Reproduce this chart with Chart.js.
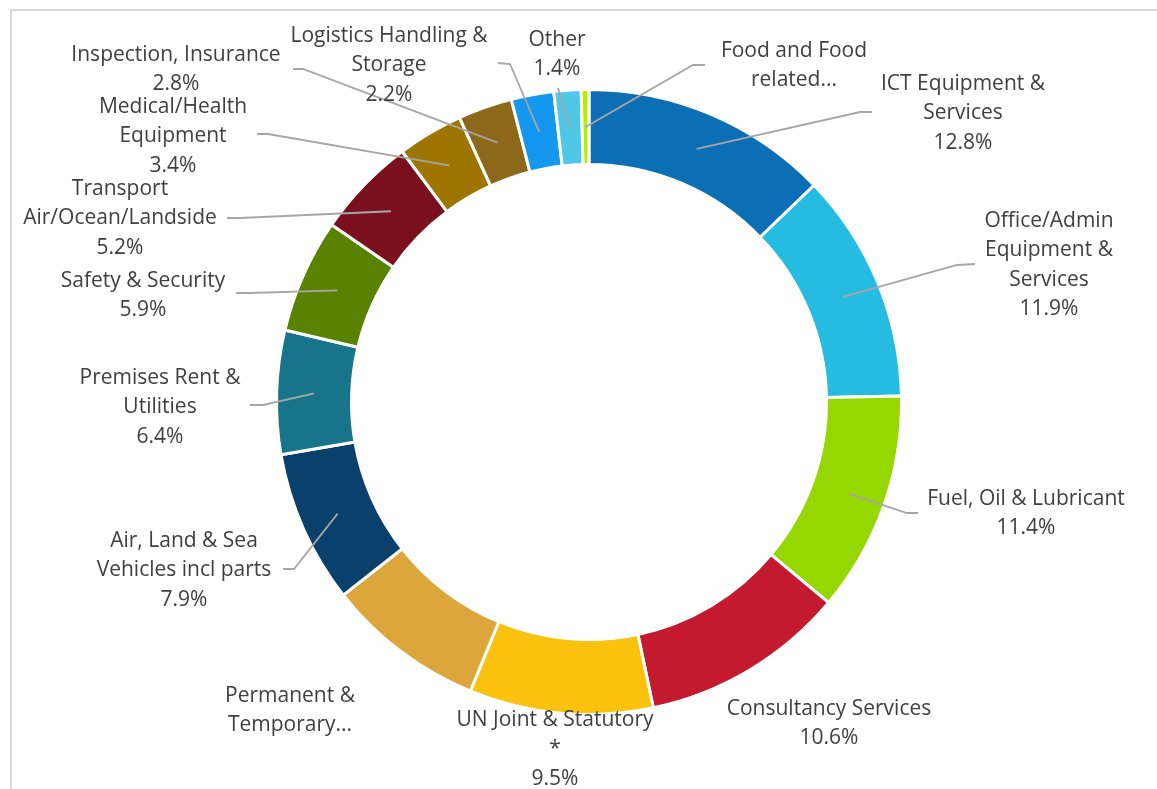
<!DOCTYPE html>
<html>
<head>
<meta charset="utf-8">
<script src="https://cdn.jsdelivr.net/npm/chart.js@4.4.1/dist/chart.umd.min.js"></script>
<style>
  body { margin: 0; background: #fff; }
  #wrap { position: relative; width: 1157px; height: 789px; overflow: hidden; }
  #frame { position: absolute; left: 10px; top: 9px; width: 1200px; height: 900px;
           border-top: 2px solid #d9d9d9; border-left: 2px solid #d9d9d9; }
  canvas { position: absolute; left: 0; top: 0; }
</style>
</head>
<body>
<div id="wrap">
  <div id="frame"></div>
  <canvas id="spendChart" width="1157" height="789"></canvas>
</div>
<script>
// categories (clockwise from 12 o'clock)
const categories = [
    'ICT Equipment & Services', 'Office/Admin Equipment & Services', 'Fuel, Oil & Lubricant',
    'Consultancy Services', 'UN Joint & Statutory *', 'Permanent & Temporary...',
    'Air, Land & Sea Vehicles incl parts', 'Premises Rent & Utilities', 'Safety & Security',
    'Transport Air/Ocean/Landside', 'Medical/Health Equipment', 'Inspection, Insurance',
    'Logistics Handling & Storage', 'Other', 'Food and Food related...'
];
// share of spend, %
const shares = [12.8, 11.9, 11.4, 10.6, 9.5, 8.2, 7.9, 6.4, 5.9, 5.2, 3.4, 2.8, 2.2, 1.4, 0.4];
// how each label is wrapped, and whether its % is printed
const labelLines = [
    ['ICT Equipment &', 'Services'], ['Office/Admin', 'Equipment &', 'Services'], ['Fuel, Oil & Lubricant'],
    ['Consultancy Services'], ['UN Joint & Statutory', '*'], ['Permanent &', 'Temporary...'],
    ['Air, Land & Sea', 'Vehicles incl parts'], ['Premises Rent &', 'Utilities'], ['Safety & Security'],
    ['Transport', 'Air/Ocean/Landside'], ['Medical/Health', 'Equipment'], ['Inspection, Insurance'],
    ['Logistics Handling &', 'Storage'], ['Other'], ['Food and Food', 'related...']
];
const showPct = [true, true, true, true, true, false, true, true, true, true, true, true, true, true, false];
const colors = [
    '#0C6EB4', '#26BCE2', '#97D700', '#C41A2F', '#FAC20D', '#DDA63B',
    '#09406C', '#17748A', '#588200', '#7A0F1E', '#9D7500', '#8D671A',
    '#1497EE', '#4FC7E6', '#B4EE00'
];

// label placement: x center, y of first line, and leader elbow / stub end (null = no leader)
const labelPos = [
    { x: 963, y: 84, elbow: [860, 112], end: [872, 112] },
    { x: 1049, y: 221, elbow: [957, 265], end: [975, 264] },
    { x: 1026, y: 499, elbow: [907, 513], end: [918, 513] },
    { x: 829, y: 709, elbow: null },
    { x: 555, y: 720, elbow: null },
    { x: 290, y: 696, elbow: null },
    { x: 184, y: 541, elbow: [294, 569], end: [283, 569] },
    { x: 160, y: 378, elbow: [263, 405], end: [250, 405] },
    { x: 143, y: 281, elbow: [250, 293], end: [236, 293] },
    { x: 120, y: 189, elbow: [240, 218], end: [227, 218] },
    { x: 173, y: 107, elbow: [268, 134], end: [257, 134] },
    { x: 176, y: 55, elbow: [303, 69], end: [293, 69] },
    { x: 389, y: 36, elbow: [510, 64], end: [498, 63] },
    { x: 557, y: 40, elbow: [558, 88], end: [558, 88] },
    { x: 794, y: 51, elbow: [693, 65], end: [705, 65] }
];

const outsideLabels = {
    id: 'outsideLabels',
    afterDraw(chart) {
        const ctx = chart.ctx;
        const meta = chart.getDatasetMeta(0);
        ctx.save();
        meta.data.forEach((arc, i) => {
            const p = arc.getProps(['x', 'y', 'startAngle', 'endAngle', 'innerRadius', 'outerRadius'], true);
            const pos = labelPos[i];
            // leader line from the middle of the ring
            if (pos.elbow) {
                const mid = (p.startAngle + p.endAngle) / 2;
                const r = (p.innerRadius + p.outerRadius) / 2;
                ctx.strokeStyle = '#a6a6a6';
                ctx.lineWidth = 1.8;
                ctx.beginPath();
                ctx.moveTo(p.x + Math.cos(mid) * r, p.y + Math.sin(mid) * r);
                ctx.lineTo(pos.elbow[0], pos.elbow[1]);
                ctx.lineTo(pos.end[0], pos.end[1]);
                ctx.stroke();
            }
            // label text
            const lines = labelLines[i].slice();
            if (showPct[i]) lines.push(shares[i].toFixed(1) + '%');
            ctx.fillStyle = '#404040';
            ctx.font = '21px "Open Sans"';
            ctx.textAlign = 'center';
            ctx.textBaseline = 'middle';
            lines.forEach((t, k) => {
                ctx.fillText(t, pos.x, pos.y + k * 29.5);
            });
        });
        ctx.restore();
    }
};

const ctx = document.getElementById('spendChart').getContext('2d');
new Chart(ctx, {
    type: 'doughnut',
    data: {
        labels: categories,
        datasets: [{
            data: shares,
            backgroundColor: colors,
            borderColor: '#ffffff',
            borderWidth: 3
        }]
    },
    options: {
        responsive: false,
        animation: false,
        cutout: '76%',
        layout: { padding: { left: 275, right: 254, top: 88, bottom: 73 } },
        plugins: {
            legend: { display: false },
            tooltip: { enabled: false }
        }
    },
    plugins: [outsideLabels]
});
</script>
</body>
</html>
